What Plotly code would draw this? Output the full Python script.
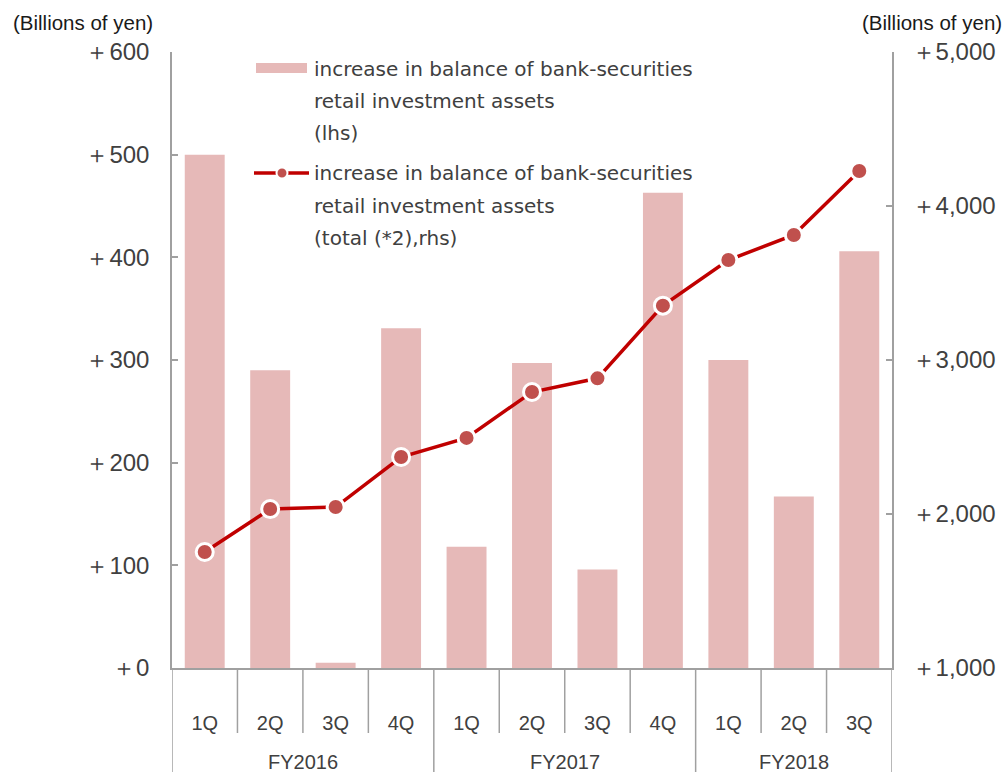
import plotly.graph_objects as go

# ---------------- data ----------------
fiscal_years = ["FY2016"] * 4 + ["FY2017"] * 4 + ["FY2018"] * 3
quarters = ["1Q", "2Q", "3Q", "4Q", "1Q", "2Q", "3Q", "4Q", "1Q", "2Q", "3Q"]
increase_lhs = [500, 290, 5, 331, 118, 297, 96, 463, 300, 167, 406]
total_rhs = [1753, 2032, 2045, 2370, 2494, 2792, 2881, 3353, 3649, 3812, 4227]

left_ticks = [0, 100, 200, 300, 400, 500, 600]
left_tick_labels = ["＋0", "＋100", "＋200", "＋300", "＋400", "＋500", "＋600"]
right_ticks = [1000, 2000, 3000, 4000, 5000]
right_tick_labels = ["＋1,000", "＋2,000", "＋3,000", "＋4,000", "＋5,000"]

bar_name = "increase in balance of bank-securities<br>retail investment assets<br>(lhs)"
line_name = "increase in balance of bank-securities<br>retail investment assets<br>(total (*2),rhs)"
legend_lines_bar = ["increase in balance of bank-securities", "retail investment assets", "(lhs)"]
legend_lines_line = ["increase in balance of bank-securities", "retail investment assets", "(total (*2),rhs)"]
unit_label = "(Billions of yen)"

# ---------------- layout constants ----------------
W, H = 1008, 772
L, R, T, B = 172, 892, 52, 668
PW, PH = R - L, B - T

BAR_COLOR = "#e6b9b8"
LINE_COLOR = "#c00000"
MARKER_COLOR = "#c0504d"
AXIS_COLOR = "#a0a0a0"
TEXT_COLOR = "#404040"
NUM_FONT = "Liberation Sans, Arial, sans-serif"
LEG_FONT = "DejaVu Sans, sans-serif"


def px2x(px):
    return (px - L) / PW


def py2y(py):
    return (B - py) / PH


idx = list(range(len(quarters)))

fig = go.Figure()
fig.add_trace(go.Bar(
    x=idx, y=increase_lhs, name=bar_name, marker=dict(color=BAR_COLOR, line=dict(width=0)),
    width=0.61, showlegend=False,
))
fig.add_trace(go.Scatter(
    x=idx, y=total_rhs, name=line_name, yaxis="y2", mode="lines+markers",
    line=dict(color=LINE_COLOR, width=3.5),
    marker=dict(size=17, color=MARKER_COLOR, line=dict(color="white", width=3)),
    showlegend=False,
))

shapes = []
annotations = []

# category dividers below the axis
group_starts = [i for i in idx if i == 0 or fiscal_years[i] != fiscal_years[i - 1]]
for b in range(len(quarters) + 1):
    is_group = b in group_starts or b == len(quarters)
    shapes.append(dict(
        type="line", xref="x", yref="paper", x0=b - 0.5, x1=b - 0.5,
        y0=0, y1=py2y(772) if is_group else py2y(733),
        line=dict(color=AXIS_COLOR, width=1.5),
    ))

# fiscal year labels
for g, s in enumerate(group_starts):
    e = group_starts[g + 1] if g + 1 < len(group_starts) else len(quarters)
    annotations.append(dict(
        x=(s + e - 1) / 2, xref="x", y=py2y(762), yref="paper", text=fiscal_years[s],
        showarrow=False, xanchor="center", yanchor="middle",
        font=dict(family=NUM_FONT, size=20, color=TEXT_COLOR),
    ))

# axis unit labels
annotations.append(dict(x=px2x(11), y=py2y(22), xref="paper", yref="paper", text=unit_label,
                        showarrow=False, xanchor="left", yanchor="middle",
                        font=dict(family=NUM_FONT, size=20.5, color="#1a1a1a")))
annotations.append(dict(x=px2x(1004), y=py2y(22), xref="paper", yref="paper", text=unit_label,
                        showarrow=False, xanchor="right", yanchor="middle",
                        font=dict(family=NUM_FONT, size=20.5, color="#1a1a1a")))

# manual legend
shapes.append(dict(type="rect", xref="paper", yref="paper", x0=px2x(256), x1=px2x(307),
                   y0=py2y(73), y1=py2y(63), fillcolor=BAR_COLOR, line=dict(width=0)))
shapes.append(dict(type="line", xref="paper", yref="paper", x0=px2x(254), x1=px2x(309),
                   y0=py2y(173), y1=py2y(173), line=dict(color=LINE_COLOR, width=3.5)))
shapes.append(dict(type="circle", xref="paper", yref="paper", x0=px2x(276.5), x1=px2x(287.5),
                   y0=py2y(178.5), y1=py2y(167.5), fillcolor=MARKER_COLOR,
                   line=dict(color="white", width=2)))
for ln, yy in zip(legend_lines_bar, [69, 101, 133]):
    annotations.append(dict(x=px2x(312), y=py2y(yy), xref="paper", yref="paper", text=ln,
                            showarrow=False, xanchor="left", yanchor="middle",
                            font=dict(family=LEG_FONT, size=20, color=TEXT_COLOR)))
for ln, yy in zip(legend_lines_line, [173, 206, 238]):
    annotations.append(dict(x=px2x(312), y=py2y(yy), xref="paper", yref="paper", text=ln,
                            showarrow=False, xanchor="left", yanchor="middle",
                            font=dict(family=LEG_FONT, size=20, color=TEXT_COLOR)))

fig.update_layout(
    width=W, height=H,
    margin=dict(l=L, r=W - R, t=T, b=H - B, pad=0),
    paper_bgcolor="white", plot_bgcolor="white",
    showlegend=False,
    bargap=0.39,
    xaxis=dict(
        range=[-0.5, len(quarters) - 0.5], tickmode="array", tickvals=idx, ticktext=quarters,
        showgrid=False, zeroline=False, showline=True, linecolor=AXIS_COLOR, linewidth=1.5,
        ticks="", ticklabelstandoff=36,
        tickfont=dict(family=NUM_FONT, size=20, color=TEXT_COLOR),
    ),
    yaxis=dict(
        range=[0, 600], tickmode="array", tickvals=left_ticks, ticktext=left_tick_labels,
        showgrid=False, zeroline=False, showline=True, linecolor=AXIS_COLOR, linewidth=1.5,
        ticks="inside", ticklen=6, tickcolor=AXIS_COLOR, tickwidth=1.5,
        ticklabelstandoff=16,
        tickfont=dict(family=NUM_FONT, size=24, color=TEXT_COLOR),
    ),
    yaxis2=dict(
        range=[1000, 5000], tickmode="array", tickvals=right_ticks, ticktext=right_tick_labels,
        overlaying="y", side="right",
        showgrid=False, zeroline=False, showline=True, linecolor=AXIS_COLOR, linewidth=1.5,
        ticks="inside", ticklen=6, tickcolor=AXIS_COLOR, tickwidth=1.5,
        ticklabelstandoff=13,
        tickfont=dict(family=NUM_FONT, size=24, color=TEXT_COLOR),
    ),
    shapes=shapes,
    annotations=annotations,
)

fig.write_html(
    "out.html",
    config={"displayModeBar": False},
    post_script="document.body.style.margin='0';document.body.style.padding='0';",
)
